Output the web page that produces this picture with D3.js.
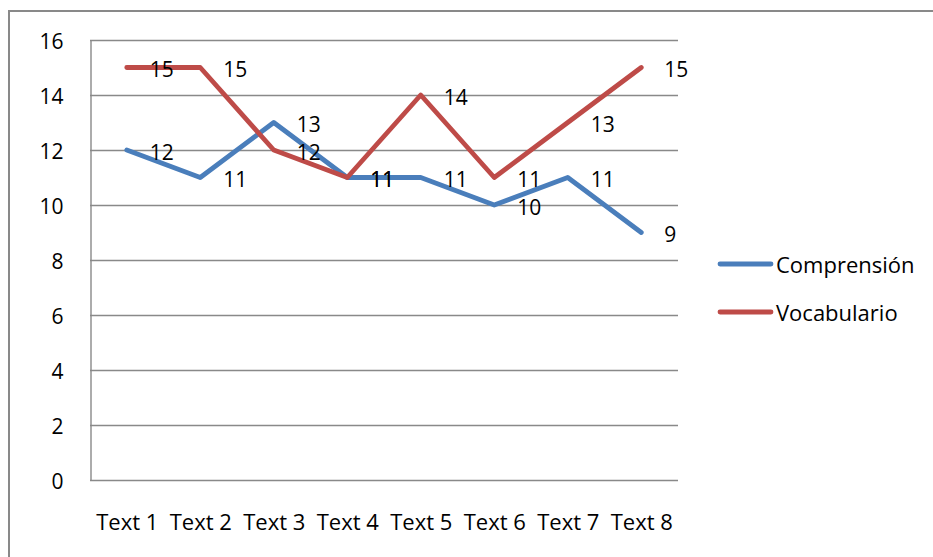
<!DOCTYPE html>
<html>
<head>
<meta charset="utf-8">
<script src="https://cdn.jsdelivr.net/npm/d3@7"></script>
<style>
  html, body { margin: 0; padding: 0; background: #fff; }
  svg { display: block; }
  svg text { font-family: "Open Sans", "Liberation Sans", sans-serif; fill: #000; }
</style>
</head>
<body>
<svg id="chart" width="933" height="557"></svg>
<script>
// Chart data
const categories = ["Text 1", "Text 2", "Text 3", "Text 4", "Text 5", "Text 6", "Text 7", "Text 8"];
const comprension = [12, 11, 13, 11, 11, 10, 11, 9];
const vocabulario = [15, 15, 12, 11, 14, 11, 13, 15];
const yTicks = [0, 2, 4, 6, 8, 10, 12, 14, 16];
const seriesNames = ["Comprensión", "Vocabulario"];
const seriesColors = ["#4A7EBB", "#BE4B48"];

const series = [
  { name: seriesNames[0], values: comprension, color: seriesColors[0] },
  { name: seriesNames[1], values: vocabulario, color: seriesColors[1] }
];

const svg = d3.select("#chart");
const plot = { left: 90, right: 678, top: 40, bottom: 480 };
const gridColor = "#898989";

// Outer frame (extends past the right and bottom edges)
svg.append("rect")
  .attr("x", 9).attr("y", 11)
  .attr("width", 940).attr("height", 560)
  .attr("fill", "none").attr("stroke", gridColor).attr("stroke-width", 2);

const x = d3.scalePoint()
  .domain(categories)
  .range([plot.left, plot.right])
  .padding(0.5);

const y = d3.scaleLinear()
  .domain([0, 16])
  .range([plot.bottom, plot.top]);

// Horizontal gridlines
svg.append("g")
  .selectAll("line")
  .data(yTicks)
  .join("line")
  .attr("x1", plot.left).attr("x2", plot.right)
  .attr("y1", d => y(d) + 0.5).attr("y2", d => y(d) + 0.5)
  .attr("stroke", gridColor).attr("stroke-width", 1.4);

// Value axis
const yAxis = svg.append("g")
  .attr("transform", `translate(${plot.left + 0.5},0.5)`)
  .call(d3.axisLeft(y).tickValues(yTicks).tickSize(0).tickPadding(27))
  .attr("font-family", null).attr("font-size", 21);
yAxis.select(".domain").attr("stroke", gridColor).attr("stroke-width", 1.4);
yAxis.selectAll("text").attr("dy", "0.36em");

// Category axis
const xAxis = svg.append("g")
  .attr("transform", `translate(0,${plot.bottom})`)
  .call(d3.axisBottom(x).tickSize(0))
  .attr("font-family", null).attr("font-size", 22);
xAxis.select(".domain").remove();
xAxis.selectAll("text").attr("y", 42).attr("dy", "0.36em");

// Lines
const line = d3.line()
  .x((d, i) => x(categories[i]))
  .y(d => y(d));

svg.append("g")
  .selectAll("path")
  .data(series)
  .join("path")
  .attr("d", d => line(d.values))
  .attr("fill", "none")
  .attr("stroke", d => d.color)
  .attr("stroke-width", 4.8)
  .attr("stroke-linejoin", "round")
  .attr("stroke-linecap", "round");

// Data labels, to the right of each point
series.forEach(s => {
  svg.append("g")
    .selectAll("text")
    .data(s.values)
    .join("text")
    .attr("x", (d, i) => x(categories[i]) + 23)
    .attr("y", d => y(d) + 2)
    .attr("dy", "0.36em")
    .attr("font-size", 21)
    .text(d => d);
});

// Legend
const legend = svg.append("g");
series.forEach((s, i) => {
  const ly = 264 + i * 48;
  legend.append("line")
    .attr("x1", 720).attr("x2", 771)
    .attr("y1", ly).attr("y2", ly)
    .attr("stroke", s.color).attr("stroke-width", 4.8)
    .attr("stroke-linecap", "round");
  legend.append("text")
    .attr("x", 776).attr("y", ly + 1)
    .attr("dy", "0.36em")
    .attr("font-size", 22)
    .text(s.name);
});
</script>
</body>
</html>
